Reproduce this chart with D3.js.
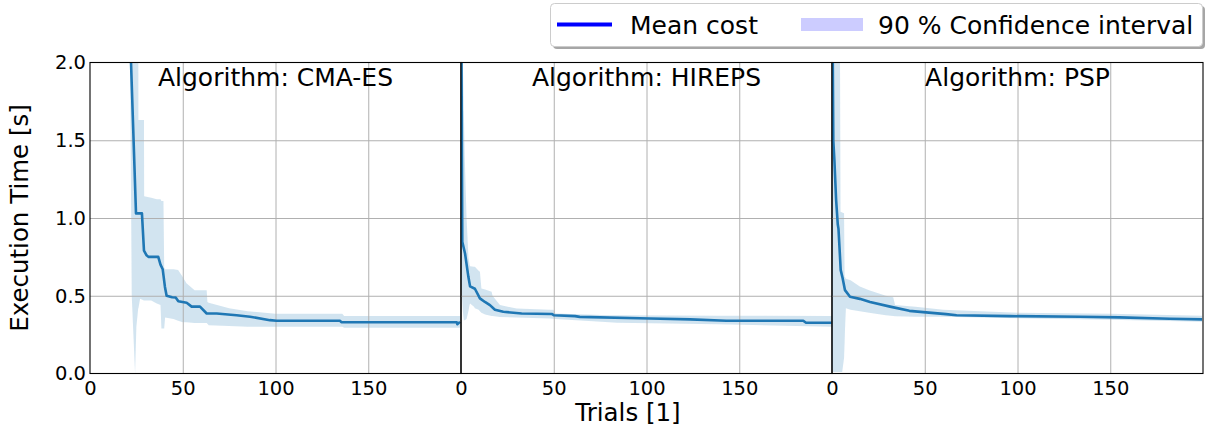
<!DOCTYPE html>
<html>
<head>
<meta charset="utf-8">
<script src="https://cdn.jsdelivr.net/npm/d3@7"></script>
<style>
  body { margin: 0; background: #fff; }
  svg { font-family: "DejaVu Sans", sans-serif; }
</style>
</head>
<body>
<div id="viz"></div>
<script>
// values
const algorithms = ["CMA-ES", "HIREPS", "PSP"];
const xTicks = [0, 50, 100, 150];
const yTicks = [0, 0.5, 1.0, 1.5, 2.0];
const legendLabels = ["Mean cost", "90 % Confidence interval"];

const cmaesMeanTrials = [21.5, 24.8, 28, 29.1, 30.5, 31.5, 36.8, 38, 39.2, 40.4, 41.3, 44.3, 46.2, 47.6, 52.1, 54.8, 59.3, 62.9, 68.3, 79, 86.3, 97, 100.6, 134.8, 135.5, 197.7, 198, 199.5];
const cmaesMean = [2.22, 1.03, 1.03, 0.79, 0.76, 0.75, 0.75, 0.70, 0.67, 0.557, 0.50, 0.49, 0.489, 0.465, 0.455, 0.43, 0.43, 0.386, 0.386, 0.375, 0.365, 0.343, 0.339, 0.339, 0.33, 0.33, 0.317, 0.332];
const cmaesBandTrials = [21.5, 22.5, 24.3, 25, 26, 26.1, 27, 29.1, 29.2, 33, 36, 38, 38.5, 39.6, 40, 40.5, 45, 47.5, 50, 52, 56.4, 60, 62.9, 63.3, 64, 75, 85, 100, 136, 137, 199.5];
const cmaesLower = [2.2, 0.5, 0.0, 0.3, 0.42, 0.42, 0.48, 0.47, 0.47, 0.47, 0.45, 0.44, 0.29, 0.29, 0.29, 0.36, 0.35, 0.34, 0.33, 0.33, 0.325, 0.325, 0.325, 0.32, 0.31, 0.305, 0.30, 0.30, 0.30, 0.295, 0.295];
const cmaesUpper = [2.6, 2.6, 2.6, 2.6, 2.6, 1.63, 1.63, 1.63, 1.14, 1.13, 1.12, 1.12, 1.11, 1.11, 0.68, 0.67, 0.67, 0.665, 0.62, 0.58, 0.536, 0.536, 0.536, 0.46, 0.455, 0.42, 0.40, 0.385, 0.385, 0.37, 0.37];

const hirepsMeanTrials = [0, 0.7, 2.2, 4.0, 4.9, 7.5, 10.2, 12.9, 15.6, 18.3, 22.8, 32.7, 48.9, 50, 61.5, 64, 101.9, 123.5, 143, 184.5, 186, 199.8];
const hirepsMean = [2.8, 0.847, 0.77, 0.62, 0.56, 0.545, 0.483, 0.46, 0.44, 0.41, 0.397, 0.386, 0.383, 0.375, 0.369, 0.364, 0.354, 0.348, 0.339, 0.339, 0.326, 0.326];
const hirepsBandTrials = [0, 1, 1.5, 2, 3, 4, 4.6, 4.9, 7, 7.5, 9.5, 10.2, 11, 13, 16.5, 17, 21, 30, 48, 49.8, 51, 80, 84, 138, 199.8];
const hirepsLower = [0.6, 0.40, 0.343, 0.343, 0.35, 0.40, 0.44, 0.45, 0.43, 0.42, 0.41, 0.40, 0.39, 0.38, 0.37, 0.37, 0.364, 0.36, 0.354, 0.352, 0.35, 0.33, 0.326, 0.317, 0.30];
const hirepsUpper = [3.0, 2.0, 1.7, 1.4, 1.0, 0.75, 0.70, 0.69, 0.686, 0.686, 0.66, 0.654, 0.547, 0.54, 0.525, 0.50, 0.44, 0.418, 0.41, 0.41, 0.386, 0.375, 0.374, 0.372, 0.369];

const pspMeanTrials = [0, 0.7, 1.3, 2.2, 3.1, 3.5, 4.7, 5.6, 7, 9.7, 15, 20.5, 31.3, 41.7, 50.7, 61.5, 67.2, 96, 133.7, 155, 182, 199.5];
const pspMean = [2.8, 1.50, 1.37, 1.12, 0.96, 0.93, 0.665, 0.62, 0.536, 0.493, 0.48, 0.46, 0.43, 0.403, 0.393, 0.382, 0.375, 0.369, 0.365, 0.361, 0.352, 0.348];
const pspBandTrials = [0, 0.5, 4.3, 4.6, 5.5, 6.5, 6.8, 7, 7.5, 10, 15, 20, 29, 33, 34, 45, 60, 100, 150, 199.5];
const pspLower = [0.05, 0.01, 0.01, 0.01, 0.01, 0.1, 0.2, 0.28, 0.42, 0.41, 0.40, 0.39, 0.375, 0.37, 0.368, 0.365, 0.365, 0.355, 0.345, 0.332];
const pspUpper = [3.0, 3.0, 2.1, 1.04, 1.035, 1.03, 0.62, 0.62, 0.61, 0.60, 0.56, 0.535, 0.50, 0.49, 0.44, 0.43, 0.41, 0.39, 0.385, 0.372];

const series = [
  {mt: cmaesMeanTrials, m: cmaesMean, bt: cmaesBandTrials, lo: cmaesLower, hi: cmaesUpper},
  {mt: hirepsMeanTrials, m: hirepsMean, bt: hirepsBandTrials, lo: hirepsLower, hi: hirepsUpper},
  {mt: pspMeanTrials, m: pspMean, bt: pspBandTrials, lo: pspLower, hi: pspUpper}
];

const width = 1207, height = 430;
const margin = ({top: 62.5, right: 4, bottom: 56.5, left: 90});
const panelW = (width - margin.left - margin.right) / algorithms.length;
const bigFont = 25, labelFont = 24.5, tickFont = 19.5;
const blue = "#1f77b4";

const svg = d3.select('#viz').append('svg')
    .attr('width', width)
    .attr('height', height);

const y = d3.scaleLinear()
    .domain([0, 2])
    .range([height - margin.bottom, margin.top]);

algorithms.forEach((name, i) => {
  const s = series[i];
  const x0 = margin.left + i * panelW;
  const x = d3.scaleLinear().domain([0, 200]).range([x0, x0 + panelW]);

  svg.append("clipPath").attr("id", "clip" + i)
    .append("rect")
      .attr("x", x0).attr("y", margin.top)
      .attr("width", panelW).attr("height", y(0) - margin.top);

  const g = svg.append("g");

  // confidence band
  const band = s.bt.map((t, k) => ({t: t, lo: s.lo[k], hi: s.hi[k]}));
  g.append("path")
      .datum(band)
      .attr("clip-path", `url(#clip${i})`)
      .attr("fill", blue)
      .attr("fill-opacity", 0.2)
      .attr("d", d3.area().x(d => x(d.t)).y0(d => y(d.lo)).y1(d => y(d.hi)));

  // grid
  g.append("g")
      .attr("transform", `translate(0,${y(0)})`)
      .call(d3.axisBottom(x).tickValues(xTicks.filter(v => v > 0)).tickSize(-(y(0) - margin.top)).tickFormat(""))
      .call(g => g.select(".domain").remove())
      .call(g => g.selectAll("line").attr("stroke", "#b0b0b0").attr("stroke-width", 1));
  g.append("g")
      .attr("transform", `translate(${x0},0)`)
      .call(d3.axisLeft(y).tickValues(yTicks.slice(1, -1)).tickSize(-panelW).tickFormat(""))
      .call(g => g.select(".domain").remove())
      .call(g => g.selectAll("line").attr("stroke", "#b0b0b0").attr("stroke-width", 1));

  // mean line
  g.append("path")
      .datum(s.mt.map((t, k) => [t, s.m[k]]))
      .attr("clip-path", `url(#clip${i})`)
      .attr("fill", "none")
      .attr("stroke", blue)
      .attr("stroke-width", 2.6)
      .attr("stroke-linejoin", "round")
      .attr("d", d3.line().x(d => x(d[0])).y(d => y(d[1])));

  // spines
  g.append("rect")
      .attr("x", x0).attr("y", margin.top)
      .attr("width", panelW).attr("height", y(0) - margin.top)
      .attr("fill", "none").attr("stroke", "#000").attr("stroke-width", 1.1);

  // x tick labels
  g.append("g")
      .attr("transform", `translate(0,${y(0)})`)
      .call(d3.axisBottom(x).tickValues(xTicks).tickSize(0).tickPadding(7.5))
      .call(g => g.select(".domain").remove())
      .call(g => g.selectAll("text").attr("font-size", tickFont).attr("font-family", "DejaVu Sans").attr("fill", "#000"));

  if (i === 0) {
    g.append("g")
        .attr("transform", `translate(${x0},0)`)
        .call(d3.axisLeft(y).tickValues(yTicks).tickSize(0).tickPadding(4).tickFormat(d3.format(".1f")))
        .call(g => g.select(".domain").remove())
        .call(g => g.selectAll("text").attr("font-size", tickFont).attr("font-family", "DejaVu Sans").attr("fill", "#000"));
  }

  // title inside the panel
  g.append("text")
      .attr("x", x0 + panelW / 2)
      .attr("y", 86)
      .attr("text-anchor", "middle")
      .attr("font-size", bigFont)
      .text("Algorithm: " + name);
});

// axis labels
svg.append("text")
    .attr("transform", `translate(28,${(margin.top + y(0)) / 2}) rotate(-90)`)
    .attr("text-anchor", "middle")
    .attr("font-size", labelFont)
    .text("Execution Time [s]");

svg.append("text")
    .attr("x", 628)
    .attr("y", 421)
    .attr("text-anchor", "middle")
    .attr("font-size", labelFont)
    .text("Trials [1]");

// legend
const lg = svg.append("g");
lg.append("rect")
    .attr("x", 553).attr("y", 6).attr("width", 652).attr("height", 43).attr("rx", 4)
    .attr("fill", "#000").attr("fill-opacity", 0.35);
lg.append("rect")
    .attr("x", 550.5).attr("y", 3.5).attr("width", 652).attr("height", 43).attr("rx", 4)
    .attr("fill", "#fff").attr("stroke", "#cccccc").attr("stroke-width", 1);
lg.append("line")
    .attr("x1", 557).attr("x2", 612).attr("y1", 24.5).attr("y2", 24.5)
    .attr("stroke", "#0000ff").attr("stroke-width", 4.2);
lg.append("text")
    .attr("x", 630).attr("y", 33.5)
    .attr("font-size", bigFont)
    .text(legendLabels[0]);
lg.append("rect")
    .attr("x", 801).attr("y", 18).attr("width", 62).attr("height", 13)
    .attr("fill", "#0000ff").attr("fill-opacity", 0.2);
lg.append("text")
    .attr("x", 878).attr("y", 33.5)
    .attr("font-size", bigFont)
    .text(legendLabels[1]);
</script>
</body>
</html>
